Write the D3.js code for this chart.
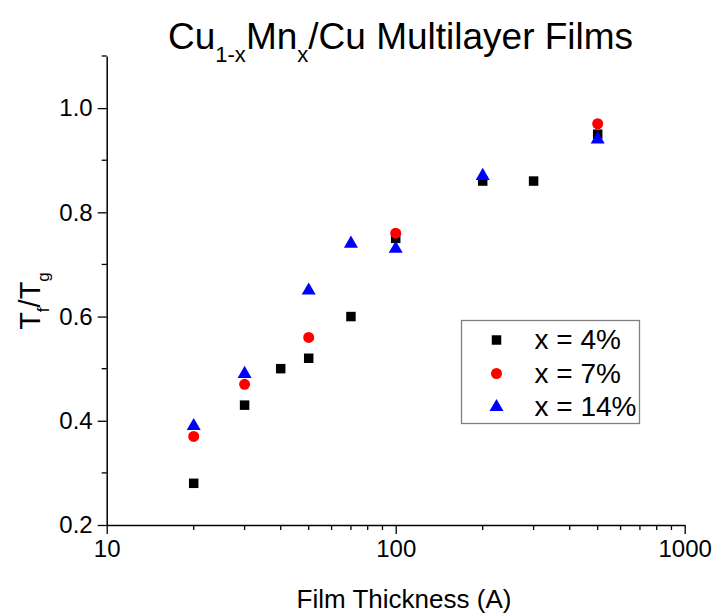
<!DOCTYPE html>
<html>
<head>
<meta charset="utf-8">
<script src="https://cdn.jsdelivr.net/npm/d3@7"></script>
<style>
  html, body { margin: 0; padding: 0; background: #fff; }
  text { font-family: "Liberation Sans", Arial, sans-serif; fill: #000; }
</style>
</head>
<body>
<svg id="chart" width="717" height="613"></svg>
<script>
// Film thickness (A) for each composition and the reduced freezing temperature Tf/Tg
const thick4 = [20, 30, 40, 50, 70, 100, 200, 300, 500];
const ratio4 = [0.28, 0.43, 0.50, 0.52, 0.60, 0.75, 0.86, 0.86, 0.95];

const thick7 = [20, 30, 50, 100, 500];
const ratio7 = [0.37, 0.47, 0.56, 0.76, 0.97];

const thick14 = [20, 30, 50, 70, 100, 200, 500];
const ratio14 = [0.39, 0.49, 0.65, 0.74, 0.73, 0.87, 0.94];

const xMajorTicks = [10, 100, 1000];
const yMajorTicks = [0.2, 0.4, 0.6, 0.8, 1.0];
const yMinorTicks = [0.3, 0.5, 0.7, 0.9, 1.1];

const seriesNames = ["x = 4%", "x = 7%", "x = 14%"];

const svg = d3.select("#chart");

const x = d3.scaleLog().domain([10, 1000]).range([106.7, 684.7]);
const y = d3.scaleLinear().domain([0.2, 1.1]).range([525, 56]);

// minor log ticks between decades
const xMinorTicks = [];
for (let d = 10; d < 1000; d *= 10) for (let k = 2; k <= 9; k++) xMinorTicks.push(d * k);

const axisG = svg.append("g");

// x axis: major ticks with labels, then minor ticks
const xAxis = d3.axisBottom(x).tickValues(xMajorTicks).tickFormat(d3.format("d"))
  .tickSize(9).tickSizeOuter(0).tickPadding(6);
const gx = axisG.append("g").attr("transform", `translate(0,${y(0.2)})`).call(xAxis);
gx.append("g").selectAll("line").data(xMinorTicks).join("line")
  .attr("x1", d => x(d)).attr("x2", d => x(d)).attr("y1", 0).attr("y2", 5)
  .attr("stroke", "#000").attr("stroke-width", 1.3);

// y axis
const yAxis = d3.axisLeft(y).tickValues(yMajorTicks).tickFormat(d3.format(".1f"))
  .tickSize(9).tickSizeOuter(0).tickPadding(5);
const gy = axisG.append("g").attr("transform", `translate(${x(10)},0)`).call(yAxis);
gy.append("g").selectAll("line").data(yMinorTicks).join("line")
  .attr("x1", 0).attr("x2", -5).attr("y1", d => y(d)).attr("y2", d => y(d))
  .attr("stroke", "#000").attr("stroke-width", 1.3);

axisG.selectAll(".domain").attr("stroke", "#000").attr("stroke-width", 1.5);
axisG.selectAll(".tick line").attr("stroke", "#000").attr("stroke-width", 1.3);
axisG.selectAll(".tick text").style("font-size", "24px")
  .style("font-family", '"Liberation Sans", Arial, sans-serif').attr("fill", "#000");

// markers
const sym = {
  square: d3.symbol().type(d3.symbolSquare).size(90),
  circle: d3.symbol().type(d3.symbolCircle).size(95),
  triangle: d3.symbol().type(d3.symbolTriangle).size(85)
};

const series = [
  { name: seriesNames[0], xs: thick4, ys: ratio4, shape: sym.square, color: "#000000" },
  { name: seriesNames[1], xs: thick7, ys: ratio7, shape: sym.circle, color: "#ff0000" },
  { name: seriesNames[2], xs: thick14, ys: ratio14, shape: sym.triangle, color: "#0000ff" }
];

const plotG = svg.append("g");
series.forEach(s => {
  plotG.append("g").selectAll("path").data(s.xs.map((v, i) => [v, s.ys[i]])).join("path")
    .attr("d", s.shape)
    .attr("transform", d => `translate(${x(d[0])},${y(d[1])})`)
    .attr("fill", s.color);
});

// legend
const lg = svg.append("g").attr("transform", "translate(461.5,320.5)");
lg.append("rect").attr("width", 178).attr("height", 103)
  .attr("fill", "#fff").attr("stroke", "#808080").attr("stroke-width", 1.3);
series.forEach((s, i) => {
  const cy = 19.5 + i * 33.5;
  lg.append("path").attr("d", s.shape).attr("transform", `translate(35,${cy})`).attr("fill", s.color);
  lg.append("text").attr("x", 73).attr("y", cy + 9).style("font-size", "28px").text(s.name);
});

// title with subscripts
const title = svg.append("text").attr("x", 168).attr("y", 49).style("font-size", "37px");
title.append("tspan").text("Cu");
title.append("tspan").attr("dy", 13).style("font-size", "22px").text("1-x");
title.append("tspan").attr("dy", -13).text("Mn");
title.append("tspan").attr("dy", 13).style("font-size", "22px").text("x");
title.append("tspan").attr("dy", -13).text("/Cu Multilayer Films");

// axis titles
svg.append("text").attr("x", 404).attr("y", 608).attr("text-anchor", "middle")
  .style("font-size", "26px").text("Film Thickness (A)");

const yl = svg.append("text").attr("transform", "translate(40,301) rotate(-90)")
  .attr("text-anchor", "middle").style("font-size", "29px");
yl.append("tspan").text("T");
yl.append("tspan").attr("dy", 9).style("font-size", "17px").text("f");
yl.append("tspan").attr("dy", -9).text("/T");
yl.append("tspan").attr("dy", 9).style("font-size", "17px").text("g");
</script>
</body>
</html>
